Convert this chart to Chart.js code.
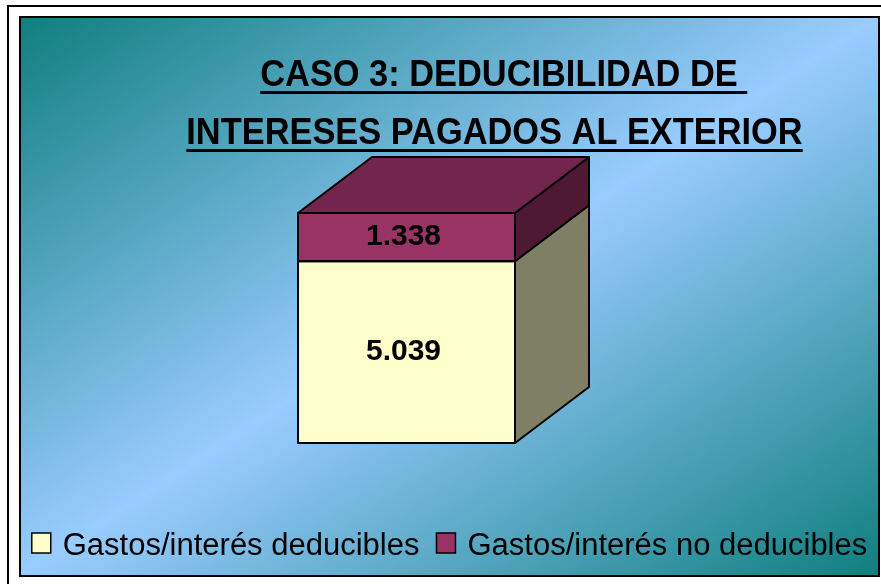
<!DOCTYPE html>
<html>
<head>
<meta charset="utf-8">
<title>Caso 3</title>
<script src="https://cdn.jsdelivr.net/npm/chart.js@4.4.1/dist/chart.umd.min.js"></script>
<style>
  html, body { margin: 0; padding: 0; background: #fff; }
  canvas { display: block; }
</style>
</head>
<body>
<canvas id="chart" width="881" height="584"></canvas>
<script>
const categories = ["Caso 3"];
const seriesLabels = ["Gastos/interés deducibles", "Gastos/interés no deducibles"];
const deducibles = [5039];
const noDeducibles = [1338];
const titleLines = ["CASO 3: DEDUCIBILIDAD DE ", "INTERESES PAGADOS AL EXTERIOR"];

const FONT = '"Liberation Sans", Arial, sans-serif';
const DEPTH_X = 74;
const DEPTH_Y = -56;

// front / top / side colours per series
const faces = [
  { front: "#ffffcc", top: "#bfbf99", side: "#7f7f66" },
  { front: "#993366", top: "#73264d", side: "#4d1933" }
];

function fmt(n) {
  return String(n).replace(/\B(?=(\d{3})+(?!\d))/g, ".");
}

function poly(ctx, pts, fill) {
  ctx.beginPath();
  ctx.moveTo(pts[0][0], pts[0][1]);
  for (let i = 1; i < pts.length; i++) ctx.lineTo(pts[i][0], pts[i][1]);
  ctx.closePath();
  ctx.fillStyle = fill;
  ctx.fill();
  ctx.stroke();
}

const frame = {
  id: "frame",
  beforeDraw(chart) {
    const ctx = chart.ctx;
    ctx.save();
    ctx.fillStyle = "#fff";
    ctx.fillRect(0, 0, chart.width, chart.height);

    // outer frame
    ctx.strokeStyle = "#000";
    ctx.lineWidth = 2;
    ctx.beginPath();
    ctx.moveTo(8, chart.height);
    ctx.lineTo(8, 6);
    ctx.lineTo(chart.width, 6);
    ctx.stroke();

    // chart area with diagonal gradient
    const x0 = 20, y0 = 17, x1 = 879, y1 = 576;
    const W = x1 - x0, H = y1 - y0;
    const k = (2 * W * H) / (W * W + H * H);
    const g = ctx.createLinearGradient(x0, y0, x0 + H * k, y0 + W * k);
    g.addColorStop(0, "#0f7f7f");
    g.addColorStop(0.5, "#99ccff");
    g.addColorStop(1, "#0f7f7f");
    ctx.fillStyle = g;
    ctx.fillRect(x0, y0, W, H);
    ctx.strokeRect(x0, y0, W, H);

    // title, underlined, slightly condensed
    ctx.fillStyle = "#000";
    ctx.font = "bold 36px " + FONT;
    ctx.textBaseline = "alphabetic";
    ctx.textAlign = "left";
    const sx = 0.955;
    const centers = [499, 494.5];
    const baselines = [86, 144];
    titleLines.forEach((line, i) => {
      const visible = ctx.measureText(line.trimEnd()).width * sx;
      const full = ctx.measureText(line).width * sx;
      const left = centers[i] - visible / 2;
      ctx.save();
      ctx.translate(left, baselines[i]);
      ctx.scale(sx, 1);
      ctx.fillText(line, 0, 0);
      ctx.restore();
      ctx.fillRect(left, baselines[i] + 5, full, 3);
    });

    // legend
    ctx.font = "31px " + FONT;
    const widths = seriesLabels.map(t => ctx.measureText(t).width);
    const box = 19, gap = 12, sep = 17;
    const total = widths.reduce((s, w) => s + box + gap + w, 0) + sep * (widths.length - 1);
    let lx = (x0 + x1) / 2 - total / 2;
    seriesLabels.forEach((t, i) => {
      ctx.fillStyle = faces[i].front;
      ctx.fillRect(lx, 533, box, 20);
      ctx.lineWidth = 1.5;
      ctx.strokeRect(lx, 533, box, 20);
      ctx.fillStyle = "#000";
      ctx.fillText(t, lx + box + gap, 555);
      lx += box + gap + widths[i] + sep;
    });
    ctx.restore();
  }
};

const cube = {
  id: "cube",
  afterDatasetsDraw(chart) {
    const ctx = chart.ctx;
    ctx.save();
    ctx.strokeStyle = "#000";
    ctx.lineWidth = 2;
    ctx.lineJoin = "round";
    const last = chart.data.datasets.length - 1;
    chart.data.datasets.forEach((ds, di) => {
      const meta = chart.getDatasetMeta(di);
      meta.data.forEach((bar, i) => {
        const p = bar.getProps(["x", "y", "base", "width"], true);
        const l = p.x - p.width / 2, r = p.x + p.width / 2;
        const t = Math.min(p.y, p.base), b = Math.max(p.y, p.base);
        // side
        poly(ctx, [[r, t], [r + DEPTH_X, t + DEPTH_Y], [r + DEPTH_X, b + DEPTH_Y], [r, b]], faces[di].side);
        // top
        if (di === last) {
          poly(ctx, [[l, t], [l + DEPTH_X, t + DEPTH_Y], [r + DEPTH_X, t + DEPTH_Y], [r, t]], faces[di].top);
        }
        ctx.strokeRect(l, t, r - l, b - t);
        // value label
        ctx.fillStyle = "#000";
        ctx.font = "bold 30px " + FONT;
        ctx.textAlign = "center";
        ctx.textBaseline = "alphabetic";
        ctx.fillText(fmt(ds.data[i]), p.x - 3, (t + b) / 2 + 8);
      });
    });
    ctx.restore();
  }
};

new Chart(document.getElementById("chart"), {
  type: "bar",
  data: {
    labels: categories,
    datasets: [
      { label: seriesLabels[0], data: deducibles, backgroundColor: faces[0].front, borderWidth: 0, barThickness: 217 },
      { label: seriesLabels[1], data: noDeducibles, backgroundColor: faces[1].front, borderWidth: 0, barThickness: 217 }
    ]
  },
  options: {
    responsive: false,
    animation: false,
    layout: { padding: { left: 220, right: 288, top: 190.5, bottom: 141 } },
    scales: {
      x: { display: false, stacked: true },
      y: { display: false, stacked: true, min: 0, max: 7000 }
    },
    plugins: {
      legend: { display: false },
      title: { display: false },
      tooltip: { enabled: false }
    }
  },
  plugins: [frame, cube]
});
</script>
</body>
</html>
